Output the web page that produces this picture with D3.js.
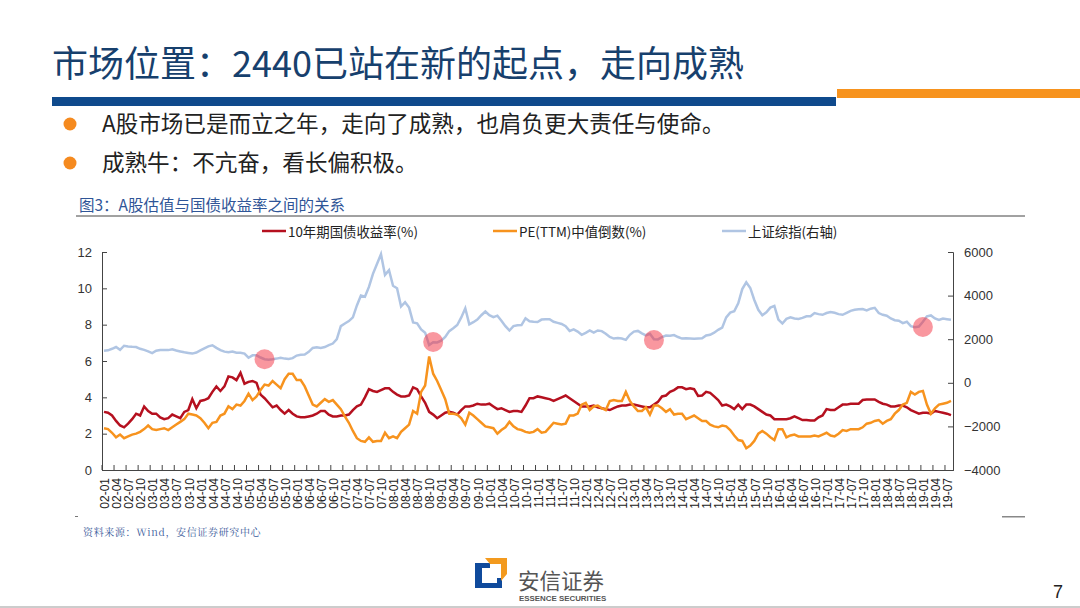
<!DOCTYPE html>
<html>
<head>
<meta charset="utf-8">
<script src="https://cdn.jsdelivr.net/npm/d3@7/dist/d3.min.js"></script>
<style>
  html, body { margin: 0; padding: 0; background: #fff; }
  svg { display: block; }
  text { font-family: "Noto Sans CJK SC", sans-serif; }
  .axis text { font-family: "Liberation Sans", Arial, sans-serif; fill: #333; }
  .axis line, .axis path { stroke: #444; }
</style>
</head>
<body>
<div id="chart"></div>
<script>
// monthly values, 02-01 to 19-08
var years = d3.range(2, 20);
var bondYield = [
  3.2,3.15,3.0,2.7,2.45,2.35,2.55,2.8,3.1,3.0,3.5,3.25,
  3.1,3.1,2.9,2.8,2.85,3.05,2.95,2.85,3.2,3.3,3.9,3.4,
  3.8,3.85,3.95,4.3,4.6,4.35,4.6,5.15,5.1,4.95,5.35,4.75,
  4.85,4.9,4.8,4.15,3.95,3.7,3.45,3.55,3.3,3.1,3.3,3.1,
  2.95,2.9,2.9,2.95,3.0,3.1,3.25,3.25,3.05,2.95,2.95,3.0,
  3.0,3.05,3.3,3.5,3.6,4.0,4.45,4.35,4.3,4.4,4.5,4.5,
  4.3,4.15,4.05,4.05,4.1,4.55,4.45,4.05,3.7,3.2,3.05,2.85,
  3.0,3.15,3.2,3.15,3.05,3.3,3.5,3.5,3.55,3.65,3.6,3.6,
  3.65,3.5,3.35,3.4,3.3,3.2,3.25,3.25,3.2,3.55,3.95,3.95,
  4.05,4.0,3.95,3.9,3.8,3.9,4.0,4.1,3.95,3.8,3.65,3.5,
  3.5,3.5,3.55,3.45,3.4,3.35,3.3,3.4,3.5,3.55,3.55,3.6,
  3.6,3.55,3.5,3.45,3.45,3.6,3.75,4.05,4.1,4.3,4.4,4.55,
  4.55,4.45,4.5,4.45,4.08,4.1,4.3,4.25,4.05,3.85,3.55,3.6,
  3.5,3.35,3.6,3.35,3.6,3.6,3.5,3.35,3.2,3.05,3.0,2.8,
  2.8,2.8,2.8,2.85,2.95,2.85,2.75,2.75,2.72,2.72,2.9,3.0,
  3.35,3.3,3.3,3.45,3.6,3.6,3.65,3.65,3.65,3.85,3.88,3.88,
  3.88,3.75,3.65,3.6,3.5,3.5,3.55,3.55,3.45,3.3,3.2,3.1,
  3.15,3.15,3.1,3.25,3.2,3.15,3.1,3.02
];
var peInverse = [
  2.3,2.25,2.05,1.8,1.95,1.75,1.85,1.95,2.0,2.1,2.25,2.45,
  2.25,2.2,2.25,2.3,2.2,2.35,2.5,2.65,2.8,3.1,3.05,3.0,
  2.85,2.6,2.3,2.6,2.65,3.0,3.1,3.5,3.35,3.6,3.55,3.8,
  4.2,3.85,4.05,4.4,4.7,4.65,4.9,4.7,4.5,5.0,5.3,5.3,
  4.95,4.95,4.6,4.1,3.6,3.5,3.7,3.9,3.75,3.85,3.6,3.35,
  2.95,2.6,2.15,1.75,1.6,1.55,1.8,1.55,1.6,1.6,2.05,1.75,
  1.85,1.75,2.1,2.3,2.5,3.25,3.1,4.3,4.65,6.25,5.3,4.9,
  4.4,3.9,3.1,3.1,3.05,2.85,2.5,3.15,3.0,2.8,2.6,2.4,
  2.35,2.3,2.0,2.2,2.35,2.65,2.4,2.25,2.2,2.1,2.05,2.1,
  2.25,2.05,2.1,2.35,2.6,2.55,2.5,2.55,3.0,3.0,3.1,3.6,
  3.7,3.3,3.5,3.55,3.4,3.3,3.8,3.85,3.8,3.8,4.3,3.8,
  3.5,3.25,3.25,3.45,3.05,3.55,3.55,3.4,3.2,3.35,3.05,3.1,
  3.1,2.8,2.9,3.0,2.85,2.7,2.7,2.5,2.4,2.35,2.45,2.4,
  2.2,1.9,1.65,1.6,1.2,1.35,1.6,2.0,2.15,2.0,1.8,1.65,
  2.25,2.25,1.8,1.9,1.95,1.85,1.85,1.85,1.85,1.9,1.85,1.95,
  2.05,1.9,1.85,2.0,2.2,2.15,2.25,2.25,2.25,2.35,2.55,2.6,
  2.7,2.75,2.55,2.7,2.8,3.1,3.3,3.6,3.7,4.3,4.15,4.3,
  4.35,3.6,3.1,3.4,3.6,3.65,3.7,3.8
];
var shIndex = [
  1474,1490,1560,1640,1510,1700,1670,1650,1640,1560,1510,1440,
  1360,1470,1500,1510,1500,1540,1480,1440,1400,1370,1340,1390,
  1490,1580,1670,1720,1600,1500,1430,1400,1430,1380,1380,1340,
  1150,1260,1260,1160,1080,1060,1080,1110,1150,1110,1090,1130,
  1250,1290,1300,1420,1600,1630,1600,1640,1730,1800,2000,2600,
  2720,2830,3000,3550,4000,3950,4400,5000,5450,5900,4950,5170,
  4450,4340,3500,3700,3450,2770,2730,2450,2300,1730,1860,1850,
  1930,2100,2370,2500,2650,3000,3420,2680,2780,2900,3100,3270,
  3100,3010,3080,2850,2600,2400,2600,2640,2650,2960,2820,2800,
  2790,2900,2920,2920,2800,2750,2700,2600,2380,2450,2350,2200,
  2290,2400,2300,2400,2370,2250,2100,2030,2050,2030,1970,2200,
  2350,2380,2270,2180,2250,2000,1990,2100,2170,2160,2190,2100,
  2030,2040,2030,2020,2030,2040,2170,2200,2300,2430,2530,3000,
  3220,3280,3650,4300,4610,4350,3800,3350,3100,3230,3450,3530,
  2900,2720,2930,3000,2950,2930,2980,3050,3050,3200,3150,3120,
  3200,3250,3210,3150,3120,3210,3300,3350,3370,3380,3320,3400,
  3440,3200,3120,3080,2950,2870,2850,2740,2800,2600,2550,2580,
  2800,3050,3090,2950,2880,2950,2920,2890
];
// the four highlighted spots, on the right axis
var spotMonths = ["05-05", "08-11", "13-06", "19-01"];
var spotValues = [1080, 1870, 1960, 2560];

var leftTicks = [0, 2, 4, 6, 8, 10, 12];
var rightTicks = [-4000, -2000, 0, 2000, 4000, 6000];
var seriesNames = ["10年期国债收益率(%)", "PE(TTM)中值倒数(%)", "上证综指(右轴)"];
var seriesColors = ["#b5101f", "#f7931e", "#b0c5e3"];

var months = [];
years.forEach(function(y) {
  d3.range(1, 13).forEach(function(m) {
    months.push(d3.format("02")(y) + "-" + d3.format("02")(m));
  });
});
months = months.slice(0, bondYield.length);
var quarterLabels = months.filter(function(d, i) { return i % 3 == 0; });

var svgWidth = 1080;
var svgHeight = 608;
var margin = { top: 252, right: 127, bottom: 138, left: 102 };
var width = svgWidth - margin.left - margin.right;
var height = svgHeight - margin.top - margin.bottom;

var svg = d3.select("#chart")
  .append("svg")
  .attr("width", svgWidth)
  .attr("height", svgHeight);

// slide header
svg.append("text")
  .attr("x", 52).attr("y", 77)
  .attr("font-size", 36)
  .attr("fill", "#17406d")
  .text("市场位置：2440已站在新的起点，走向成熟");
svg.append("rect").attr("x", 52).attr("y", 97).attr("width", 784).attr("height", 9).attr("fill", "#0f4a8c");
svg.append("rect").attr("x", 837).attr("y", 89).attr("width", 243).attr("height", 9).attr("fill", "#f7931e");

var bullets = ["A股市场已是而立之年，走向了成熟，也肩负更大责任与使命。", "成熟牛：不亢奋，看长偏积极。"];
bullets.forEach(function(b, i) {
  svg.append("circle").attr("cx", 70).attr("cy", 124 + i * 39).attr("r", 6.5).attr("fill", "#f58a1f");
  svg.append("text")
    .attr("x", 102).attr("y", 132 + i * 39)
    .attr("font-size", 22.55)
    .attr("fill", "#222")
    .text(b);
});

svg.append("text")
  .attr("x", 79).attr("y", 210.5)
  .attr("font-size", 15.5)
  .attr("fill", "#2f5597")
  .text("图3：A股估值与国债收益率之间的关系");
svg.append("line").attr("x1", 76).attr("x2", 1025).attr("y1", 216).attr("y2", 216).attr("stroke", "#444");

// legend
var legendLine = [262, 493, 722];
seriesNames.forEach(function(name, i) {
  svg.append("line")
    .attr("x1", legendLine[i]).attr("x2", legendLine[i] + 24)
    .attr("y1", 231).attr("y2", 231)
    .attr("stroke", seriesColors[i]).attr("stroke-width", 2.5);
  svg.append("text")
    .attr("x", legendLine[i] + 26).attr("y", 236.5)
    .attr("font-size", 13.4)
    .attr("fill", "#222")
    .text(name);
});

var chartGroup = svg.append("g")
  .attr("transform", `translate(${margin.left}, ${margin.top})`);

var xScale = d3.scaleBand().domain(months).range([0, width]);
var yLeft = d3.scaleLinear().domain([0, 12]).range([height, 0]);
var yRight = d3.scaleLinear().domain([-4000, 6000]).range([height, 0]);
var xMid = function(m) { return xScale(m) + xScale.bandwidth() / 2; };

var bottomAxis = d3.axisBottom(xScale).tickValues(quarterLabels).tickSize(-5).tickPadding(8);
var leftAxis = d3.axisLeft(yLeft).tickValues(leftTicks).tickSize(-5).tickPadding(10);
var rightAxis = d3.axisRight(yRight).tickValues(rightTicks).tickFormat(d3.format("d")).tickSize(-5).tickPadding(11);

var xGroup = chartGroup.append("g")
  .attr("class", "axis")
  .attr("transform", `translate(0, ${height})`)
  .call(bottomAxis);
// ticks sit between the quarters, labels stay on the first month
xGroup.selectAll(".tick line").attr("transform", `translate(${-xScale.bandwidth() / 2}, 0)`);
xGroup.selectAll(".tick text")
  .attr("transform", "rotate(-90)")
  .attr("text-anchor", "end")
  .attr("x", -8).attr("y", 1).attr("dy", "0.35em")
  .attr("font-size", 12)
  .style("fill", "#222");
xGroup.select(".domain").attr("stroke-width", 1);

chartGroup.append("g").attr("class", "axis").call(leftAxis)
  .selectAll("text").attr("font-size", 13);
chartGroup.append("g").attr("class", "axis")
  .attr("transform", `translate(${width}, 0)`)
  .call(rightAxis)
  .selectAll("text").attr("font-size", 13);

var lineLeft = d3.line()
  .x(function(d, i) { return xMid(months[i]); })
  .y(function(d) { return yLeft(d); });
var lineRight = d3.line()
  .x(function(d, i) { return xMid(months[i]); })
  .y(function(d) { return yRight(d); });

chartGroup.append("path").datum(bondYield)
  .attr("d", lineLeft).attr("fill", "none")
  .attr("stroke", seriesColors[0]).attr("stroke-width", 2.5);
chartGroup.append("path").datum(peInverse)
  .attr("d", lineLeft).attr("fill", "none")
  .attr("stroke", seriesColors[1]).attr("stroke-width", 2.5);
chartGroup.append("path").datum(shIndex)
  .attr("d", lineRight).attr("fill", "none")
  .attr("stroke", seriesColors[2]).attr("stroke-width", 2.5);

chartGroup.selectAll(".spot")
  .data(spotMonths)
  .enter()
  .append("circle")
  .attr("class", "spot")
  .attr("cx", function(d) { return xMid(d); })
  .attr("cy", function(d, i) { return yRight(spotValues[i]); })
  .attr("r", 10)
  .attr("fill", "#f4303f")
  .attr("fill-opacity", 0.5);

// footer
svg.append("rect").attr("x", 75).attr("y", 516).attr("width", 3).attr("height", 1).attr("fill", "#777");
svg.append("rect").attr("x", 1002).attr("y", 516).attr("width", 23).attr("height", 1.5).attr("fill", "#888");
svg.append("text")
  .attr("x", 83).attr("y", 536)
  .attr("font-size", 10)
  .attr("letter-spacing", 0.65)
  .attr("fill", "#3a5a9a")
  .style("font-family", "'Noto Serif CJK SC', 'Liberation Serif', 'Noto Sans CJK SC', serif")
  .text("资料来源：Wind，安信证券研究中心");

// logo
svg.append("path").attr("d", "M475 563H490V568H482V583H497V578H502V588H475Z").attr("fill", "#0f4a9c");
svg.append("path").attr("d", "M485 558H507V574L501 581V564H490Z").attr("fill", "#f39a1e");
svg.append("text")
  .attr("x", 518).attr("y", 588.5)
  .attr("font-size", 21.5)
  .attr("fill", "#555")
  .text("安信证券");
svg.append("text")
  .attr("x", 519).attr("y", 600.5)
  .attr("font-size", 7.9)
  .attr("font-weight", "bold")
  .attr("fill", "#555")
  .style("font-family", "'Liberation Sans', sans-serif")
  .text("ESSENCE SECURITIES");

svg.append("text")
  .attr("x", 1053).attr("y", 598)
  .attr("font-size", 18)
  .attr("fill", "#222")
  .style("font-family", "'Liberation Sans', sans-serif")
  .text("7");
svg.append("rect").attr("x", 0).attr("y", 606).attr("width", 1080).attr("height", 2).attr("fill", "#ccc");
</script>
</body>
</html>
